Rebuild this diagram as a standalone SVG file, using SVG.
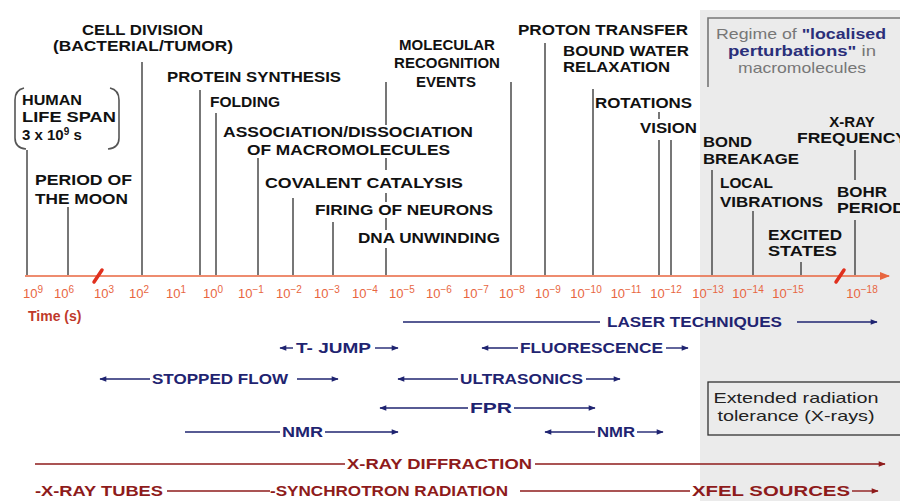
<svg xmlns="http://www.w3.org/2000/svg" width="900" height="501" viewBox="0 0 900 501">
<defs>
<style>
.lbl{font-family:"Liberation Sans",Arial,sans-serif;font-weight:bold;font-size:15px;fill:#111}
.tk{font-family:"Liberation Sans",Arial,sans-serif;font-size:13px;fill:#e8663f}
.tech{font-family:"Liberation Sans",Arial,sans-serif;font-weight:bold;font-size:15px;fill:#1f2471}
.xr{font-family:"Liberation Sans",Arial,sans-serif;font-weight:bold;font-size:15px;fill:#8e1b1b}
.vl{stroke:#555;stroke-width:1.6;fill:none}
.tl{stroke:#1f2471;stroke-width:1.4;fill:none}
.xl{stroke:#8e1b1b;stroke-width:1.4;fill:none}
.reg{font-family:"Liberation Sans",Arial,sans-serif;font-size:15px;fill:#777}
.regb{font-weight:bold;fill:#2a2f7a}
.ext{font-family:"Liberation Sans",Arial,sans-serif;font-size:15px;fill:#222}
</style>
<marker id="an" viewBox="0 0 10 10" refX="9" refY="5" markerWidth="10" markerHeight="7" orient="auto-start-reverse" markerUnits="userSpaceOnUse"><path d="M0,1 L10,5 L0,9 z" fill="#1f2471"/></marker>
<marker id="ar" viewBox="0 0 10 10" refX="9" refY="5" markerWidth="10" markerHeight="7" orient="auto-start-reverse" markerUnits="userSpaceOnUse"><path d="M0,1 L10,5 L0,9 z" fill="#8e1b1b"/></marker>
<marker id="ax" viewBox="0 0 10 10" refX="9" refY="5" markerWidth="13" markerHeight="10" orient="auto" markerUnits="userSpaceOnUse"><path d="M0,1 L10,5 L0,9 z" fill="#e8663f"/></marker>
</defs>
<rect x="0" y="0" width="900" height="501" fill="#fff"/>
<rect x="700" y="10" width="200" height="491" fill="#ebebeb"/>

<g id="regime">
<path d="M708,87 L708,18 L900,18" stroke="#777" stroke-width="1.6" fill="none"/>
<text class="reg" x="801" y="39" text-anchor="middle" textLength="170" lengthAdjust="spacingAndGlyphs">Regime of <tspan class="regb">"localised</tspan></text>
<text class="reg" x="802" y="56" text-anchor="middle" textLength="148" lengthAdjust="spacingAndGlyphs"><tspan class="regb">perturbations"</tspan> in</text>
<text class="reg" x="802" y="73" text-anchor="middle" textLength="128" lengthAdjust="spacingAndGlyphs">macromolecules</text>
</g>

<g id="extended">
<rect x="708" y="382" width="196" height="53" stroke="#333" stroke-width="1.3" fill="none"/>
<text class="ext" x="796" y="403" text-anchor="middle" textLength="165" lengthAdjust="spacingAndGlyphs">Extended radiation</text>
<text class="ext" x="796" y="421" text-anchor="middle" textLength="157" lengthAdjust="spacingAndGlyphs">tolerance (X-rays)</text>
</g>

<g id="connectors">
<g class="vl">
<path d="M27,150 V275"/>
<path d="M68,207 V275"/>
<path d="M142,62 V275"/>
<path d="M200,90 V275"/>
<path d="M216,113 V275"/>
<path d="M258,158 V275"/>
<path d="M293,198 V275"/>
<path d="M333,222 V275"/>
<path d="M386,82 V125 M386,158 V170 M386,193 V202 M386,218 V230 M386,248 V275"/>
<path d="M511,82 V275"/>
<path d="M545,43 V275"/>
<path d="M593,89 V275"/>
<path d="M659,112 V119 M659,140 V275"/>
<path d="M671,140 V275"/>
<path d="M712,170 V275"/>
<path d="M753,211 V275"/>
<path d="M801,262 V275"/>
<path d="M855,150 V180 M855,220 V275"/>
</g>
<path d="M24,88 Q15,90 15,100 L15,138 Q15,148 26,149" class="vl" stroke-width="1.3"/>
<path d="M110,88 Q119,90 119,100 L119,138 Q119,148 108,149" class="vl" stroke-width="1.3"/>
<line x1="25" y1="276" x2="889" y2="276" stroke="#e8663f" stroke-width="1.6" marker-end="url(#ax)"/>
<path d="M94,282 L102,270" stroke="#e0301e" stroke-width="3.5" stroke-linecap="round"/>
<path d="M836,282 L844,270" stroke="#e0301e" stroke-width="3.5" stroke-linecap="round"/>
<line class="tl" x1="403" y1="322" x2="600" y2="322"/>
<line class="tl" x1="797" y1="322" x2="877" y2="322" marker-end="url(#an)"/>
<line class="tl" x1="280" y1="348" x2="293" y2="348" marker-start="url(#an)"/>
<line class="tl" x1="375" y1="348" x2="398" y2="348" marker-end="url(#an)"/>
<line class="tl" x1="482" y1="348" x2="518" y2="348" marker-start="url(#an)"/>
<line class="tl" x1="666" y1="348" x2="688" y2="348" marker-end="url(#an)"/>
<line class="tl" x1="100" y1="379" x2="150" y2="379" marker-start="url(#an)"/>
<line class="tl" x1="297" y1="379" x2="338" y2="379" marker-end="url(#an)"/>
<line class="tl" x1="398" y1="379" x2="458" y2="379" marker-start="url(#an)"/>
<line class="tl" x1="586" y1="379" x2="620" y2="379" marker-end="url(#an)"/>
<line class="tl" x1="380" y1="408" x2="468" y2="408" marker-start="url(#an)"/>
<line class="tl" x1="514" y1="408" x2="595" y2="408" marker-end="url(#an)"/>
<line class="tl" x1="185" y1="432" x2="280" y2="432"/>
<line class="tl" x1="325" y1="432" x2="398" y2="432" marker-end="url(#an)"/>
<line class="tl" x1="545" y1="432" x2="595" y2="432" marker-start="url(#an)"/>
<line class="tl" x1="637" y1="432" x2="663" y2="432" marker-end="url(#an)"/>
<line class="xl" x1="35" y1="464" x2="345" y2="464"/>
<line class="xl" x1="535" y1="464" x2="885" y2="464" marker-end="url(#ar)"/>
<line class="xl" x1="167" y1="491" x2="270" y2="491"/>
<line class="xl" x1="520" y1="491" x2="690" y2="491"/>
<line class="xl" x1="852" y1="491" x2="878" y2="491" marker-end="url(#ar)"/>
</g>

<g id="n-cell"><text class="lbl" x="82" y="35" textLength="121" lengthAdjust="spacingAndGlyphs">CELL DIVISION</text><text class="lbl" x="53" y="51" textLength="180" lengthAdjust="spacingAndGlyphs">(BACTERIAL/TUMOR)</text></g>
<g id="n-protein"><text class="lbl" x="167" y="82" textLength="174" lengthAdjust="spacingAndGlyphs">PROTEIN SYNTHESIS</text></g>
<g id="n-human"><text class="lbl" x="22" y="105" textLength="60" lengthAdjust="spacingAndGlyphs" font-size="14">HUMAN</text><text class="lbl" x="22" y="122" textLength="94" lengthAdjust="spacingAndGlyphs" font-size="14">LIFE SPAN</text><text class="lbl" x="22" y="140" font-size="14">3 x 10<tspan dy="-5" font-size="10">9</tspan><tspan dy="5"> s</tspan></text></g>
<g id="n-folding"><text class="lbl" x="210" y="107" textLength="70" lengthAdjust="spacingAndGlyphs">FOLDING</text></g>
<g id="n-assoc"><text class="lbl" x="223" y="137" textLength="250" lengthAdjust="spacingAndGlyphs">ASSOCIATION/DISSOCIATION</text><text class="lbl" x="247" y="155" textLength="203" lengthAdjust="spacingAndGlyphs">OF MACROMOLECULES</text></g>
<g id="n-moon"><text class="lbl" x="35" y="185" textLength="97" lengthAdjust="spacingAndGlyphs">PERIOD OF</text><text class="lbl" x="35" y="204" textLength="93" lengthAdjust="spacingAndGlyphs">THE MOON</text></g>
<g id="n-covalent"><text class="lbl" x="265" y="188" textLength="198" lengthAdjust="spacingAndGlyphs">COVALENT CATALYSIS</text></g>
<g id="n-firing"><text class="lbl" x="315" y="215" textLength="178" lengthAdjust="spacingAndGlyphs">FIRING OF NEURONS</text></g>
<g id="n-dna"><text class="lbl" x="358" y="243" textLength="142" lengthAdjust="spacingAndGlyphs">DNA UNWINDING</text></g>
<g id="n-molrec"><text class="lbl" x="447" y="50" text-anchor="middle">MOLECULAR</text><text class="lbl" x="447" y="68" text-anchor="middle">RECOGNITION</text><text class="lbl" x="446" y="87" text-anchor="middle">EVENTS</text></g>
<g id="n-proton"><text class="lbl" x="518" y="35" textLength="170" lengthAdjust="spacingAndGlyphs">PROTON TRANSFER</text></g>
<g id="n-water"><text class="lbl" x="563" y="56" textLength="126" lengthAdjust="spacingAndGlyphs">BOUND WATER</text><text class="lbl" x="563" y="72" textLength="107" lengthAdjust="spacingAndGlyphs">RELAXATION</text></g>
<g id="n-rot"><text class="lbl" x="595" y="108" textLength="97" lengthAdjust="spacingAndGlyphs">ROTATIONS</text></g>
<g id="n-vision"><text class="lbl" x="640" y="133" textLength="57" lengthAdjust="spacingAndGlyphs">VISION</text></g>
<g id="n-bond"><text class="lbl" x="703" y="147" textLength="49" lengthAdjust="spacingAndGlyphs">BOND</text><text class="lbl" x="703" y="164" textLength="96" lengthAdjust="spacingAndGlyphs">BREAKAGE</text></g>
<g id="n-xray"><text class="lbl" x="852" y="127" text-anchor="middle">X-RAY</text><text class="lbl" x="797" y="143" textLength="110" lengthAdjust="spacingAndGlyphs">FREQUENCY</text></g>
<g id="n-local"><text class="lbl" x="720" y="188" textLength="53" lengthAdjust="spacingAndGlyphs">LOCAL</text><text class="lbl" x="720" y="207" textLength="103" lengthAdjust="spacingAndGlyphs">VIBRATIONS</text></g>
<g id="n-bohr"><text class="lbl" x="837" y="197" textLength="50" lengthAdjust="spacingAndGlyphs">BOHR</text><text class="lbl" x="837" y="213" textLength="68" lengthAdjust="spacingAndGlyphs">PERIOD</text></g>
<g id="n-excited"><text class="lbl" x="768" y="240" textLength="74" lengthAdjust="spacingAndGlyphs">EXCITED</text><text class="lbl" x="768" y="256" textLength="69" lengthAdjust="spacingAndGlyphs">STATES</text></g>

<g id="ticks">
<text class="tk" x="33" y="298" text-anchor="middle">10<tspan dy="-5" font-size="10">9</tspan></text>
<text class="tk" x="64" y="298" text-anchor="middle">10<tspan dy="-5" font-size="10">6</tspan></text>
<text class="tk" x="104" y="298" text-anchor="middle">10<tspan dy="-5" font-size="10">3</tspan></text>
<text class="tk" x="139" y="298" text-anchor="middle">10<tspan dy="-5" font-size="10">2</tspan></text>
<text class="tk" x="176" y="298" text-anchor="middle">10<tspan dy="-5" font-size="10">1</tspan></text>
<text class="tk" x="213" y="298" text-anchor="middle">10<tspan dy="-5" font-size="10">0</tspan></text>
<text class="tk" x="251" y="298" text-anchor="middle">10<tspan dy="-5" font-size="10">−1</tspan></text>
<text class="tk" x="289" y="298" text-anchor="middle">10<tspan dy="-5" font-size="10">−2</tspan></text>
<text class="tk" x="327" y="298" text-anchor="middle">10<tspan dy="-5" font-size="10">−3</tspan></text>
<text class="tk" x="365" y="298" text-anchor="middle">10<tspan dy="-5" font-size="10">−4</tspan></text>
<text class="tk" x="402" y="298" text-anchor="middle">10<tspan dy="-5" font-size="10">−5</tspan></text>
<text class="tk" x="439" y="298" text-anchor="middle">10<tspan dy="-5" font-size="10">−6</tspan></text>
<text class="tk" x="476" y="298" text-anchor="middle">10<tspan dy="-5" font-size="10">−7</tspan></text>
<text class="tk" x="512" y="298" text-anchor="middle">10<tspan dy="-5" font-size="10">−8</tspan></text>
<text class="tk" x="548" y="298" text-anchor="middle">10<tspan dy="-5" font-size="10">−9</tspan></text>
<text class="tk" x="586" y="298" text-anchor="middle">10<tspan dy="-5" font-size="10">−10</tspan></text>
<text class="tk" x="626" y="298" text-anchor="middle">10<tspan dy="-5" font-size="10">−11</tspan></text>
<text class="tk" x="666" y="298" text-anchor="middle">10<tspan dy="-5" font-size="10">−12</tspan></text>
<text class="tk" x="708" y="298" text-anchor="middle">10<tspan dy="-5" font-size="10">−13</tspan></text>
<text class="tk" x="748" y="298" text-anchor="middle">10<tspan dy="-5" font-size="10">−14</tspan></text>
<text class="tk" x="788" y="298" text-anchor="middle">10<tspan dy="-5" font-size="10">−15</tspan></text>
<text class="tk" x="862" y="298" text-anchor="middle">10<tspan dy="-5" font-size="10">−18</tspan></text>
<text x="28" y="321" font-family="Liberation Sans, Arial, sans-serif" font-weight="bold" font-size="14" fill="#c0392b">Time (s)</text>
</g>

<g id="t-laser"><text class="tech" x="607" y="327" textLength="175" lengthAdjust="spacingAndGlyphs">LASER TECHNIQUES</text></g>
<g id="t-tjump"><text class="tech" x="296" y="353" textLength="75" lengthAdjust="spacingAndGlyphs">T- JUMP</text></g>
<g id="t-fluor"><text class="tech" x="520" y="353" textLength="143" lengthAdjust="spacingAndGlyphs">FLUORESCENCE</text></g>
<g id="t-stopped"><text class="tech" x="152" y="384" textLength="136" lengthAdjust="spacingAndGlyphs">STOPPED FLOW</text></g>
<g id="t-ultra"><text class="tech" x="460" y="384" textLength="123" lengthAdjust="spacingAndGlyphs">ULTRASONICS</text></g>
<g id="t-fpr"><text class="tech" x="470" y="413" textLength="42" lengthAdjust="spacingAndGlyphs">FPR</text></g>
<g id="t-nmr1"><text class="tech" x="282" y="437" textLength="41" lengthAdjust="spacingAndGlyphs">NMR</text></g>
<g id="t-nmr2"><text class="tech" x="597" y="437" textLength="38" lengthAdjust="spacingAndGlyphs">NMR</text></g>
<g id="t-xrd"><text class="xr" x="347" y="469" textLength="185" lengthAdjust="spacingAndGlyphs">X-RAY DIFFRACTION</text></g>
<g id="t-tubes"><text class="xr" x="35" y="496" textLength="128" lengthAdjust="spacingAndGlyphs">-X-RAY TUBES</text></g>
<g id="t-sync"><text class="xr" x="270" y="496" textLength="238" lengthAdjust="spacingAndGlyphs">-SYNCHROTRON RADIATION</text></g>
<g id="t-xfel"><text class="xr" x="692" y="496" textLength="158" lengthAdjust="spacingAndGlyphs">XFEL SOURCES</text></g>
</svg>
